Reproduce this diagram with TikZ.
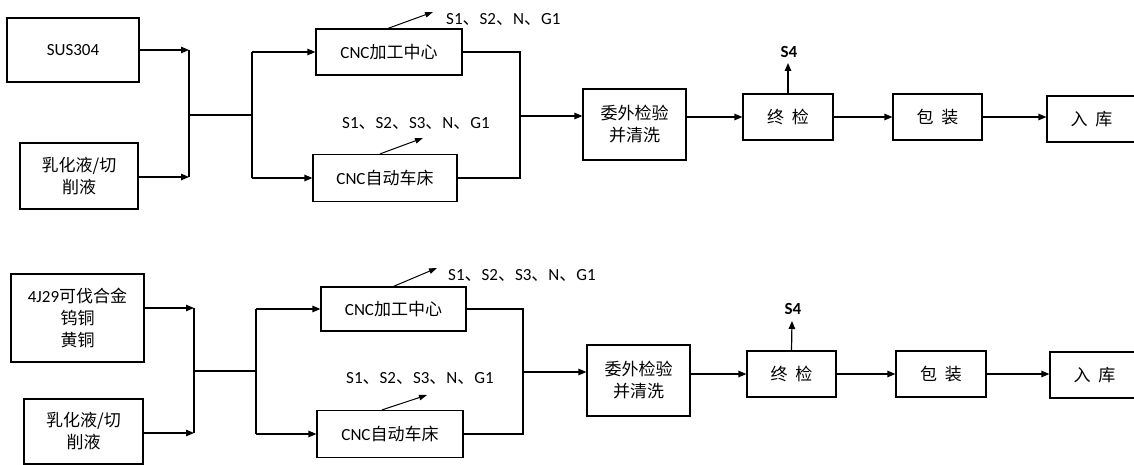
\documentclass[tikz,border=0pt]{standalone}
\usepackage{fontspec}
\setmainfont{Carlito}
\newfontfamily\cjk{Noto Sans CJK SC}
\usetikzlibrary{arrows.meta}
\newcommand{\zh}[1]{{\cjk #1}}
\newcommand{\dun}{\zh{、}}
\begin{document}
\begin{tikzpicture}[x=1pt,y=-1pt,
  box/.style={draw, line width=1.2pt, inner sep=0pt, align=center, font=\fontsize{17}{22}\selectfont},
  ln/.style={line width=1.2pt},
  arr/.style={line width=1.2pt, -{Triangle[length=8pt,width=6.5pt]}},
  tarr/.style={line width=1pt, -{Triangle[length=8pt,width=5.5pt]}},
  lbl/.style={inner sep=0pt, font=\fontsize{17}{20}\selectfont}]
\useasboundingbox (0,0) rectangle (1134,465);
\clip (0,0) rectangle (1134,465);

% ===== top row =====
\node[box, minimum width=132pt, minimum height=64pt] (sus) at (73,50) {SUS304};
\node[box, minimum width=118pt, minimum height=66pt] (em1) at (79,176) {\zh{乳化液/切}\\\zh{削液}};
\coordinate (j1a) at (189,50);
\coordinate (j1b) at (189,177);
\coordinate (j1m) at (189,115);
\coordinate (j2m) at (252,115);
\coordinate (j2a) at (252,52);
\coordinate (j2b) at (252,178);
\node[box, minimum width=146pt, minimum height=46pt] (c1) at (389,52) {CNC\zh{加工中心}};
\node[box, minimum width=144pt, minimum height=47pt] (c2) at (385,178) {CNC\zh{自动车床}};
\coordinate (j3a) at (520,52);
\coordinate (j3b) at (520,178);
\coordinate (j3m) at (520,116);
\node[box, minimum width=103pt, minimum height=71pt] (w1) at (634.5,124.5) {\zh{委外检验}\\\zh{并清洗}};
\node[box, minimum width=90pt, minimum height=46pt] (z1) at (788,117) {\zh{终\hspace{0.45em}检}};
\node[box, minimum width=89pt, minimum height=46pt] (b1) at (937.5,117) {\zh{包\hspace{0.45em}装}};
\node[box, minimum width=89pt, minimum height=46pt] (r1) at (1091.5,119) {\zh{入\hspace{0.45em}库}};
\coordinate (s4a) at (788,63);
\node[lbl, font=\fontsize{17}{20}\selectfont\bfseries] (s4t) at (789,52) {S4};
\coordinate (o1) at (433,12);
\node[lbl, anchor=west] (l1) at (446,19) {S1\dun S2\dun N\dun G1};
\coordinate (o2) at (423,138);
\node[lbl] (l2) at (416,123) {S1\dun S2\dun S3\dun N\dun G1};

\draw[arr] (sus.east |- j1a) -- (j1a);
\draw[arr] (em1.east |- j1b) -- (j1b);
\draw[ln] (j1a) -- (j1b);
\draw[ln] (j1m) -- (j2m);
\draw[ln] (j2a) -- (j2b);
\draw[arr] (j2a) -- (c1.west);
\draw[arr] (j2b) -- (c2.west);
\draw[ln] (c1.east) -- (j3a) -- (j3b) -- (c2.east);
\draw[arr] (j3m) -- (j3m -| w1.west);
\draw[arr] (z1.west -| w1.east) -- (z1.west);
\draw[arr] (z1.east) -- (b1.west);
\draw[arr] (b1.east) -- (b1.east -| r1.west);
\draw[arr] (z1.north) -- (s4a);
\draw[tarr] (c1.north) ++(-1,0) coordinate (c1t) -- (o1);
\draw[tarr] (c2.north) ++(-5,0) coordinate (c2t) -- (o2);

% ===== bottom row =====
\node[box, minimum width=133pt, minimum height=88pt] (al) at (77.5,318) {4J29\zh{可伐合金}\\\zh{钨铜}\\\zh{黄铜}};
\node[box, minimum width=119pt, minimum height=65pt] (em2) at (83.5,431.5) {\zh{乳化液/切}\\\zh{削液}};
\coordinate (j4a) at (194,308);
\coordinate (j4b) at (194,433);
\coordinate (j4m) at (194,371);
\coordinate (j5m) at (256,371);
\coordinate (j5a) at (256,309);
\coordinate (j5b) at (256,434);
\node[box, minimum width=145pt, minimum height=44pt] (c3) at (393.5,309) {CNC\zh{加工中心}};
\node[box, minimum width=146pt, minimum height=47pt] (c4) at (390,434) {CNC\zh{自动车床}};
\coordinate (j6a) at (523,309);
\coordinate (j6b) at (523,434);
\coordinate (j6m) at (523,372);
\node[box, minimum width=103pt, minimum height=71pt] (w2) at (638.5,380.5) {\zh{委外检验}\\\zh{并清洗}};
\node[box, minimum width=89pt, minimum height=46pt] (z2) at (791.5,374) {\zh{终\hspace{0.45em}检}};
\node[box, minimum width=90pt, minimum height=46pt] (b2) at (941,374) {\zh{包\hspace{0.45em}装}};
\node[box, minimum width=89pt, minimum height=46pt] (r2) at (1094.5,375) {\zh{入\hspace{0.45em}库}};
\coordinate (s4b) at (792,321);
\node[lbl, font=\fontsize{17}{20}\selectfont\bfseries] (s4u) at (793,309) {S4};
\coordinate (o3) at (437,268);
\node[lbl, anchor=west] (l3) at (448,275) {S1\dun S2\dun S3\dun N\dun G1};
\coordinate (o4) at (427,395);
\node[lbl] (l4) at (420,378) {S1\dun S2\dun S3\dun N\dun G1};

\draw[arr] (al.east |- j4a) -- (j4a);
\draw[arr] (em2.east |- j4b) -- (j4b);
\draw[ln] (j4a) -- (j4b);
\draw[ln] (j4m) -- (j5m);
\draw[ln] (j5a) -- (j5b);
\draw[arr] (j5a) -- (c3.west);
\draw[arr] (j5b) -- (c4.west);
\draw[ln] (c3.east) -- (j6a) -- (j6b) -- (c4.east);
\draw[arr] (j6m) -- (j6m -| w2.west);
\draw[arr] (z2.west -| w2.east) -- (z2.west);
\draw[arr] (z2.east) -- (b2.west);
\draw[arr] (b2.east) -- (b2.east -| r2.west);
\draw[arr] (z2.north) -- (s4b);
\draw[tarr] (c3.north) ++(0,0) coordinate (c3t) -- (o3);
\draw[tarr] (c4.north) ++(-8,0) coordinate (c4t) -- (o4);
\end{tikzpicture}
\end{document}
